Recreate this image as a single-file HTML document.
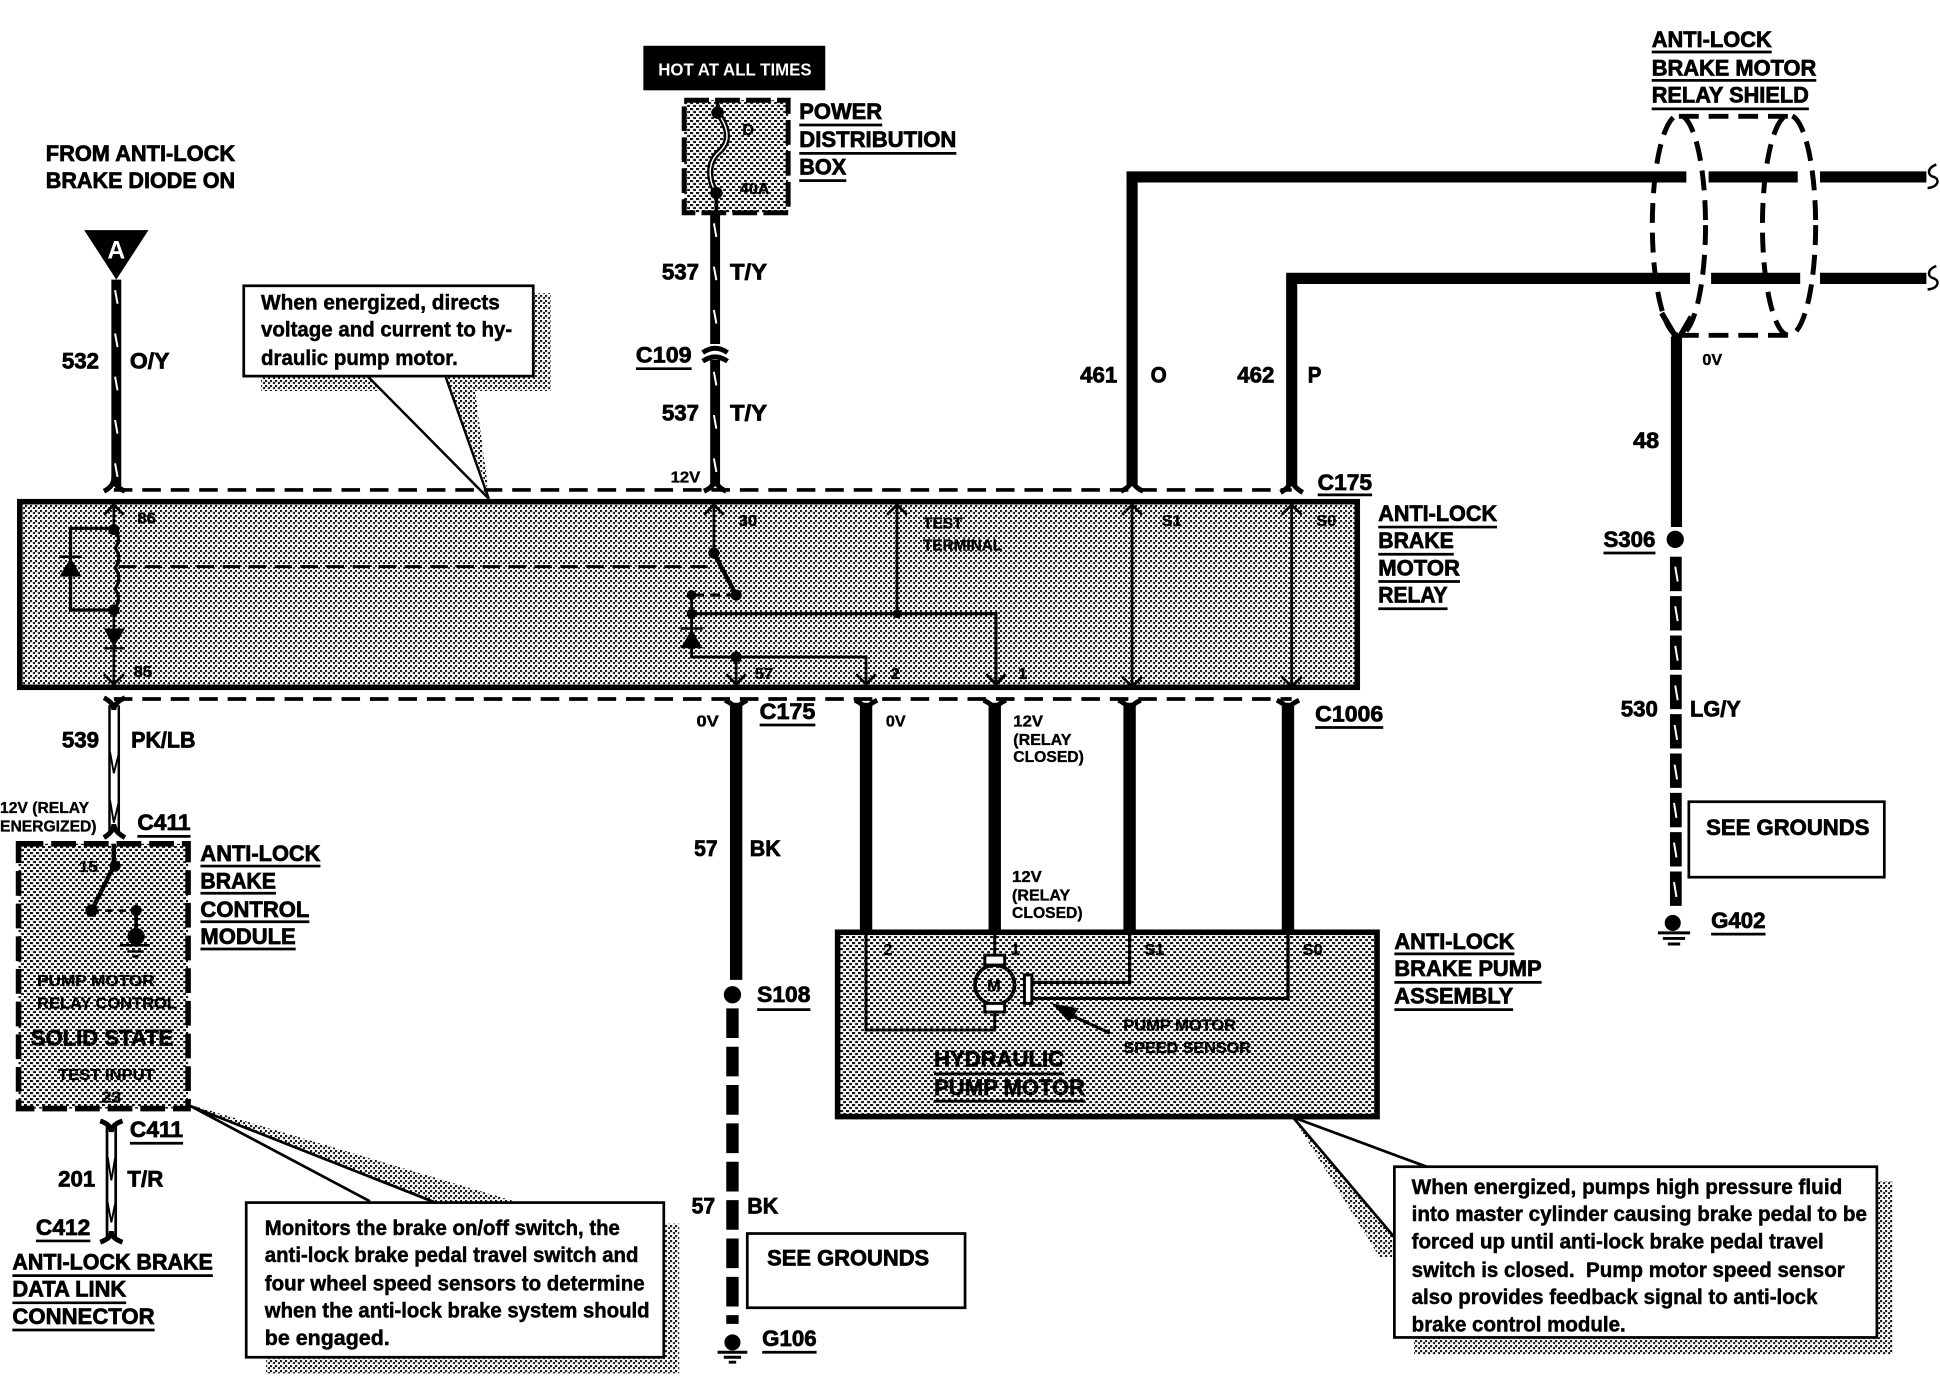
<!DOCTYPE html>
<html><head><meta charset="utf-8"><style>
html,body{margin:0;padding:0;background:#fff}
svg{display:block}
text{font-family:"Liberation Sans",sans-serif;fill:#000}
.b{font-weight:700;font-size:18px;stroke:#000;stroke-width:.6}
.m{font-weight:700;font-size:17px;stroke:#000;stroke-width:.4}
.s{font-weight:700;font-size:13px;stroke:#000;stroke-width:.3}
.w{fill:none;stroke:#000}
.u{stroke:#000;stroke-width:2.2;fill:none}
.t{fill:none;stroke:#fff;stroke-width:1.6}
</style></head><body>
<svg xmlns="http://www.w3.org/2000/svg" width="1940" height="1376" viewBox="0 0 1568 1112.16">
<defs>
<pattern id="f" width="5" height="5" patternUnits="userSpaceOnUse" patternTransform="scale(.8083)"><rect width="5" height="5" fill="#fff"/><rect width="2" height="2" fill="#000"/><rect x="3" y="2" width="2" height="2" fill="#000"/></pattern>
<pattern id="c" width="6" height="6" patternUnits="userSpaceOnUse" patternTransform="scale(.8083)"><rect width="6" height="6" fill="#fff"/><rect width="3" height="2" fill="#000"/><rect x="3" y="3" width="3" height="2" fill="#000"/></pattern>
</defs>

<!-- shaded boxes -->
<rect x="16" y="405.5" width="1081" height="150" fill="url(#f)" stroke="#000" stroke-width="4.5"/>
<rect x="677" y="753.5" width="436" height="149" fill="url(#c)" stroke="#000" stroke-width="4.5"/>
<rect x="15" y="682" width="137" height="214" fill="url(#c)" stroke="#000" stroke-width="4.5" stroke-dasharray="20 6.4"/>
<rect x="553" y="81" width="84" height="91" fill="url(#c)" stroke="#000" stroke-width="4" stroke-dasharray="20 5"/>

<!-- callout shadows + callouts -->
<path d="M431 237H445V316H211V304H431Z" fill="url(#f)"/>
<path d="M360 304L395 398L384 316L372 304Z" fill="url(#f)"/>
<path d="M297 304L395 403L360 304" fill="#fff" stroke="#000" stroke-width="2"/>
<rect x="197" y="231" width="234" height="73" fill="#fff" stroke="#000" stroke-width="2.2"/>
<path d="M537 989H549V1110H215V1097H537Z" fill="url(#f)"/>
<path d="M154 893L357 974L426 974Z" fill="url(#f)"/>
<path d="M154 894L299 971M154 894L357 974" class="w" stroke-width="2.2"/>
<rect x="199" y="972" width="337.5" height="125" fill="#fff" stroke="#000" stroke-width="2.2"/>
<path d="M1517 955H1530V1095H1143V1081H1517Z" fill="url(#f)"/>
<path d="M1045 903L1127 1000V1016H1115Z" fill="url(#f)"/>
<path d="M1045 903L1127 1000M1045 903L1153 943" class="w" stroke-width="2.2"/>
<rect x="1127" y="943" width="390" height="138" fill="#fff" stroke="#000" stroke-width="2.2"/>

<!-- dashed connector lines -->
<path d="M92 396H1044" class="w" stroke-width="3" stroke-dasharray="15 8"/>
<path d="M92 565H1044" class="w" stroke-width="3" stroke-dasharray="15 8"/>

<!-- heavy wires -->
<path d="M94 226V393" class="w" stroke-width="8"/>
<path d="M93 234.5L95 245.5M93 269.5L95 280.5M93 304.5L95 315.5M93 339.5L95 350.5M93 374.5L95 385.5" class="t"/>
<path d="M578 172V278M578 291V393" class="w" stroke-width="8"/>
<path d="M577 180.500L579 191.500M577 215.500L579 226.500M577 250.500L579 261.500M577 300.500L579 311.500M577 335.500L579 346.500M577 370.500L579 381.500" class="t"/>
<path d="M915 393V143H1363M1381 143H1453M1471 143H1557" class="w" stroke-width="9"/>
<path d="M1044 393V225H1366M1383 225H1455M1471 225H1557" class="w" stroke-width="9"/>
<path d="M1355 272V426" class="w" stroke-width="9"/>
<path d="M1354.500 450V736" class="w" stroke-width="9.500" stroke-dasharray="27.800 4"/>
<path d="M1354 458L1356 470M1354 490L1356 502M1354 522L1356 534M1354 554L1356 566M1353.500 586L1355.500 598M1353.500 618L1355.500 630M1353 649L1355 661M1353 681L1355 693M1353 713L1355 725" class="t"/>
<path d="M595 568V792" class="w" stroke-width="10"/>
<path d="M592 815V1070" class="w" stroke-width="10" stroke-dasharray="24 7"/>
<path d="M700 568V753M804 568V753M913 568V753M1041 568V753" class="w" stroke-width="10"/>
<path d="M88.500 570V672M96 570V672" class="w" stroke-width="2"/>
<path d="M89 608L92 625L96 609M89 647L92 665L96 648" class="w" stroke-width="1.500"/>
<path d="M86.500 908V1000M93.500 908V1000" class="w" stroke-width="2.200"/>
<path d="M87 935L90 954L93 936M87 972L90 988L93 973" class="w" stroke-width="1.500"/>

<!-- connector forks -->
<path d="M84 397Q92 393 92 386Q92 393 101 397M569 397Q578 393 578 386Q578 393 587 397M906 397Q915 393 915 386Q915 393 924 397M1035 398Q1044 393 1044 386Q1044 393 1053 398" class="w" stroke-width="4"/>
<path d="M84 564Q92 568 92 574Q92 568 101 564M586 566Q595 570 595 576Q595 570 604 566M691 566Q700 570 700 576Q700 570 709 566M795 566Q804 570 804 576Q804 570 813 566M904 566Q913 570 913 576Q913 570 922 566M1032 566Q1041 570 1041 576Q1041 570 1050 566" class="w" stroke-width="4"/>
<path d="M568 285Q578 278 588 285M568 292Q578 285 588 292" class="w" stroke-width="4"/>
<path d="M84 677Q92 672 92 666Q92 672 101 677" class="w" stroke-width="4"/>
<path d="M81 906Q90 909 90 915Q90 909 99 906" class="w" stroke-width="4"/>
<path d="M81 1004Q90 1001 90 995Q90 1001 99 1004" class="w" stroke-width="4"/>

<!-- A triangle -->
<path d="M68 186H120L94 226Z" fill="#000"/>
<text x="94" y="209" text-anchor="middle" font-size="20" font-weight="700" style="fill:#fff">A</text>

<!-- fuse -->
<path d="M580 80V90M579 156V172" class="w" stroke-width="3"/>
<path d="M580 91C590 105 590 115 581 123C572 131 572 145 579 156" class="w" stroke-width="5"/>
<path d="M580 91C590 105 590 115 581 123C572 131 572 145 579 156" fill="none" stroke="#fff" stroke-width="1.200"/>
<circle cx="580" cy="91" r="5"/><circle cx="579" cy="156" r="5"/>

<!-- shield -->
<ellipse cx="1357" cy="182" rx="21.500" ry="89" class="w" stroke-width="4" stroke-dasharray="16 8"/>
<ellipse cx="1446" cy="182" rx="21.500" ry="89" class="w" stroke-width="4" stroke-dasharray="16 8"/>
<path d="M1357 94H1446M1357 271H1446" class="w" stroke-width="4" stroke-dasharray="16 8"/>
<path d="M1343 253L1356 275L1367 256" class="w" stroke-width="4.500"/>
<path d="M1565 133C1557 136 1558 142 1563 143C1568 145 1567 151 1558 152M1565 215C1557 218 1558 224 1563 225C1568 227 1567 233 1558 234" class="w" stroke-width="2"/>

<!-- grounds and splice dots -->
<circle cx="1354" cy="436" r="7"/><circle cx="592" cy="804" r="7"/>
<circle cx="1352" cy="746" r="6.500"/><path d="M1340 754H1366M1344 758.500H1362M1348 763H1358" class="w" stroke-width="2.400"/>
<circle cx="592" cy="1085" r="6.500"/><path d="M580 1093H604M585 1097H599M589 1101H595" class="w" stroke-width="2.400"/>

<!-- relay internals -->
<g class="w" fill="none" stroke="#000" stroke-width="2.200">
<path d="M92 408V427M92 493V553M84 416L92 408L100 416M84 545L92 553L100 545"/>
<path d="M92 427Q99 435 93 443Q99 451 93 459Q99 467 93 476Q99 484 92 493" stroke-width="2.600"/>
<path d="M92 427H57V493H92" stroke-width="2.600"/>
<path d="M96 458H575" stroke-dasharray="14 7" stroke-width="2.400"/>
<path d="M577 408V447M569 416L577 408L585 416"/>
<path d="M577 447L595 481" stroke-width="3.500"/>
<path d="M595 481H559" stroke-width="2.500" stroke-dasharray="8 5"/>
<path d="M559 481V531H700V553M692 545L700 553L708 545"/>
<path d="M559 496H805V553M797 545L805 553L813 545" stroke-width="2.500"/>
<path d="M595 531V553M587 545L595 553L603 545"/>
<path d="M725 408V496M717 416L725 408L733 416"/>
<path d="M915 408V555M907 416L915 408L923 416M907 547L915 555L923 547"/>
<path d="M1044 408V555M1036 416L1044 408L1052 416M1036 547L1044 555L1052 547"/>
</g>
<path d="M48 466H66L57 451Z"/><path d="M48 450H66" class="w" stroke-width="2"/>
<path d="M84 508H101L92 523Z"/><path d="M84 524H101" class="w" stroke-width="2"/>
<path d="M550 524H568L559 509Z"/><path d="M550 508H568" class="w" stroke-width="2"/>
<circle cx="92" cy="428" r="4.500"/><circle cx="92" cy="493" r="4.500"/>
<circle cx="577" cy="447" r="4.500"/><circle cx="595" cy="481" r="4.500"/><circle cx="559" cy="481" r="4"/><circle cx="559" cy="496" r="4"/><circle cx="595" cy="531" r="4.500"/><circle cx="725" cy="496" r="3.500"/>

<!-- control module internals -->
<path d="M92 682V700L74 736" class="w" stroke-width="3.500"/>
<path d="M74 736H110" class="w" stroke-width="2" stroke-dasharray="6 5"/>
<path d="M110 736V757" class="w" stroke-width="3"/>
<circle cx="93" cy="700" r="4.500"/><circle cx="74" cy="736" r="5"/><circle cx="110" cy="736" r="4.500"/><circle cx="110" cy="757" r="7"/>
<path d="M97 764H121M103 769H116M107 773H112" class="w" stroke-width="2"/>

<!-- pump internals -->
<path d="M700 753V832.500H804V815M804 753V772" class="w" stroke-width="2.400"/>
<circle cx="804" cy="796" r="16" fill="none" stroke="#000" stroke-width="3"/>
<rect x="796" y="772" width="16" height="8" fill="#fff" stroke="#000" stroke-width="2.400"/>
<rect x="796" y="811" width="16" height="7" fill="#fff" stroke="#000" stroke-width="2.400"/>
<rect x="828" y="788" width="6" height="23" fill="#fff" stroke="#000" stroke-width="2.400"/>
<path d="M834 794H913V753M834 807H1041V753" class="w" stroke-width="2.600"/>
<path d="M897 835L860 818" class="w" stroke-width="2.500"/>
<path d="M850 811L872 815L864 826Z"/>

<!-- HOT box -->
<rect x="520" y="37" width="147" height="36" fill="#000"/>
<text x="532" y="61" font-size="14" font-weight="700" textLength="124" lengthAdjust="spacingAndGlyphs" style="fill:#fff">HOT AT ALL TIMES</text>

<!-- see grounds -->
<rect x="1365" y="648" width="158" height="61" fill="#fff" stroke="#000" stroke-width="2.200"/>
<rect x="604" y="997" width="176" height="60" fill="#fff" stroke="#000" stroke-width="2.200"/>

<!-- large bold labels -->
<g>
<text class="b" x="37" y="130" textLength="153" lengthAdjust="spacingAndGlyphs">FROM ANTI-LOCK</text>
<text class="b" x="37" y="152" textLength="153" lengthAdjust="spacingAndGlyphs">BRAKE DIODE ON</text>
<text class="b" x="50" y="298" textLength="30" lengthAdjust="spacingAndGlyphs">532</text>
<text class="b" x="105" y="298" textLength="32" lengthAdjust="spacingAndGlyphs">O/Y</text>
<text class="b" x="646" y="96" textLength="67" lengthAdjust="spacingAndGlyphs">POWER</text>
<text class="b" x="646" y="119" textLength="127" lengthAdjust="spacingAndGlyphs">DISTRIBUTION</text>
<text class="b" x="646" y="141" textLength="38" lengthAdjust="spacingAndGlyphs">BOX</text>
<text class="b" x="535" y="226" textLength="30" lengthAdjust="spacingAndGlyphs">537</text>
<text class="b" x="590" y="226" textLength="30" lengthAdjust="spacingAndGlyphs">T/Y</text>
<text class="b" x="514" y="293" textLength="45" lengthAdjust="spacingAndGlyphs">C109</text>
<text class="b" x="535" y="340" textLength="30" lengthAdjust="spacingAndGlyphs">537</text>
<text class="b" x="590" y="340" textLength="30" lengthAdjust="spacingAndGlyphs">T/Y</text>
<text class="b" x="873" y="309" textLength="30" lengthAdjust="spacingAndGlyphs">461</text>
<text class="b" x="930" y="309" textLength="13" lengthAdjust="spacingAndGlyphs">O</text>
<text class="b" x="1000" y="309" textLength="30" lengthAdjust="spacingAndGlyphs">462</text>
<text class="b" x="1057" y="309" textLength="11" lengthAdjust="spacingAndGlyphs">P</text>
<text class="b" x="1335" y="38" textLength="97" lengthAdjust="spacingAndGlyphs">ANTI-LOCK</text>
<text class="b" x="1335" y="61" textLength="133" lengthAdjust="spacingAndGlyphs">BRAKE MOTOR</text>
<text class="b" x="1335" y="83" textLength="127" lengthAdjust="spacingAndGlyphs">RELAY SHIELD</text>
<text class="b" x="1320" y="362" textLength="21" lengthAdjust="spacingAndGlyphs">48</text>
<text class="b" x="1296" y="442" textLength="42" lengthAdjust="spacingAndGlyphs">S306</text>
<text class="b" x="1310" y="579" textLength="30" lengthAdjust="spacingAndGlyphs">530</text>
<text class="b" x="1366" y="579" textLength="41" lengthAdjust="spacingAndGlyphs">LG/Y</text>
<text class="b" x="1379" y="675" textLength="132" lengthAdjust="spacingAndGlyphs">SEE GROUNDS</text>
<text class="b" x="1383" y="750" textLength="44" lengthAdjust="spacingAndGlyphs">G402</text>
<text class="b" x="1065" y="396" textLength="44" lengthAdjust="spacingAndGlyphs">C175</text>
<text class="b" x="1114" y="421" textLength="96" lengthAdjust="spacingAndGlyphs">ANTI-LOCK</text>
<text class="b" x="1114" y="443" textLength="61" lengthAdjust="spacingAndGlyphs">BRAKE</text>
<text class="b" x="1114" y="465" textLength="66" lengthAdjust="spacingAndGlyphs">MOTOR</text>
<text class="b" x="1114" y="487" textLength="56" lengthAdjust="spacingAndGlyphs">RELAY</text>
<text class="b" x="50" y="604" textLength="30" lengthAdjust="spacingAndGlyphs">539</text>
<text class="b" x="106" y="604" textLength="52" lengthAdjust="spacingAndGlyphs">PK/LB</text>
<text class="b" x="111" y="671" textLength="43" lengthAdjust="spacingAndGlyphs">C411</text>
<text class="b" x="162" y="696" textLength="97" lengthAdjust="spacingAndGlyphs">ANTI-LOCK</text>
<text class="b" x="162" y="718" textLength="61" lengthAdjust="spacingAndGlyphs">BRAKE</text>
<text class="b" x="162" y="741" textLength="88" lengthAdjust="spacingAndGlyphs">CONTROL</text>
<text class="b" x="162" y="763" textLength="77" lengthAdjust="spacingAndGlyphs">MODULE</text>
<text class="b" x="105" y="919" textLength="43" lengthAdjust="spacingAndGlyphs">C411</text>
<text class="b" x="47" y="959" textLength="30" lengthAdjust="spacingAndGlyphs">201</text>
<text class="b" x="103" y="959" textLength="29" lengthAdjust="spacingAndGlyphs">T/R</text>
<text class="b" x="29" y="998" textLength="44" lengthAdjust="spacingAndGlyphs">C412</text>
<text class="b" x="10" y="1026" textLength="162" lengthAdjust="spacingAndGlyphs">ANTI-LOCK BRAKE</text>
<text class="b" x="10" y="1048" textLength="92" lengthAdjust="spacingAndGlyphs">DATA LINK</text>
<text class="b" x="10" y="1070" textLength="115" lengthAdjust="spacingAndGlyphs">CONNECTOR</text>
<text class="b" x="614" y="581" textLength="45" lengthAdjust="spacingAndGlyphs">C175</text>
<text class="b" x="561" y="692" textLength="19" lengthAdjust="spacingAndGlyphs">57</text>
<text class="b" x="606" y="692" textLength="25" lengthAdjust="spacingAndGlyphs">BK</text>
<text class="b" x="612" y="810" textLength="43" lengthAdjust="spacingAndGlyphs">S108</text>
<text class="b" x="559" y="981" textLength="19" lengthAdjust="spacingAndGlyphs">57</text>
<text class="b" x="604" y="981" textLength="25" lengthAdjust="spacingAndGlyphs">BK</text>
<text class="b" x="620" y="1023" textLength="131" lengthAdjust="spacingAndGlyphs">SEE GROUNDS</text>
<text class="b" x="616" y="1088" textLength="44" lengthAdjust="spacingAndGlyphs">G106</text>
<text class="b" x="1063" y="583" textLength="55" lengthAdjust="spacingAndGlyphs">C1006</text>
<text class="b" x="1127" y="767" textLength="97" lengthAdjust="spacingAndGlyphs">ANTI-LOCK</text>
<text class="b" x="1127" y="789" textLength="119" lengthAdjust="spacingAndGlyphs">BRAKE PUMP</text>
<text class="b" x="1127" y="811" textLength="96" lengthAdjust="spacingAndGlyphs">ASSEMBLY</text>
<text class="b" x="755" y="862" textLength="105" lengthAdjust="spacingAndGlyphs">HYDRAULIC</text>
<text class="b" x="755" y="885" textLength="122" lengthAdjust="spacingAndGlyphs">PUMP MOTOR</text>
<text class="b" x="25" y="845" textLength="115" lengthAdjust="spacingAndGlyphs">SOLID STATE</text>
</g>

<!-- callout text -->
<g>
<text class="m" x="211" y="250" textLength="193" lengthAdjust="spacingAndGlyphs">When energized, directs</text>
<text class="m" x="211" y="272" textLength="203" lengthAdjust="spacingAndGlyphs">voltage and current to hy-</text>
<text class="m" x="211" y="295" textLength="159" lengthAdjust="spacingAndGlyphs">draulic pump motor.</text>
<text class="m" x="214" y="998" textLength="287" lengthAdjust="spacingAndGlyphs">Monitors the brake on/off switch, the</text>
<text class="m" x="214" y="1020" textLength="302" lengthAdjust="spacingAndGlyphs">anti-lock brake pedal travel switch and</text>
<text class="m" x="214" y="1043" textLength="307" lengthAdjust="spacingAndGlyphs">four wheel speed sensors to determine</text>
<text class="m" x="214" y="1065" textLength="311" lengthAdjust="spacingAndGlyphs">when the anti-lock brake system should</text>
<text class="m" x="214" y="1087" textLength="101" lengthAdjust="spacingAndGlyphs">be engaged.</text>
<text class="m" x="1141" y="965" textLength="348" lengthAdjust="spacingAndGlyphs">When energized, pumps high pressure fluid</text>
<text class="m" x="1141" y="987" textLength="368" lengthAdjust="spacingAndGlyphs">into master cylinder causing brake pedal to be</text>
<text class="m" x="1141" y="1009" textLength="333" lengthAdjust="spacingAndGlyphs">forced up until anti-lock brake pedal travel</text>
<text class="m" x="1141" y="1032" textLength="350" lengthAdjust="spacingAndGlyphs" xml:space="preserve">switch is closed.  Pump motor speed sensor</text>
<text class="m" x="1141" y="1054" textLength="328" lengthAdjust="spacingAndGlyphs">also provides feedback signal to anti-lock</text>
<text class="m" x="1141" y="1076" textLength="173" lengthAdjust="spacingAndGlyphs">brake control module.</text>
</g>

<!-- small labels -->
<g>
<text class="s" x="600" y="109">D</text>
<text class="s" x="598" y="157" textLength="24" lengthAdjust="spacingAndGlyphs">40A</text>
<text class="s" x="542" y="390" textLength="24" lengthAdjust="spacingAndGlyphs">12V</text>
<text class="s" x="1376" y="295" textLength="16" lengthAdjust="spacingAndGlyphs">0V</text>
<text class="s" x="111" y="423" textLength="15" lengthAdjust="spacingAndGlyphs">86</text>
<text class="s" x="108" y="547" textLength="15" lengthAdjust="spacingAndGlyphs">85</text>
<text class="s" x="597" y="425" textLength="15" lengthAdjust="spacingAndGlyphs">30</text>
<text class="s" x="939" y="425" textLength="16" lengthAdjust="spacingAndGlyphs">S1</text>
<text class="s" x="1064" y="425" textLength="16" lengthAdjust="spacingAndGlyphs">S0</text>
<text class="s" x="610" y="549" textLength="15" lengthAdjust="spacingAndGlyphs">57</text>
<text class="s" x="720" y="549">2</text>
<text class="s" x="823" y="549">1</text>
<text class="s" x="746" y="427" textLength="32" lengthAdjust="spacingAndGlyphs">TEST</text>
<text class="s" x="746" y="445" textLength="64" lengthAdjust="spacingAndGlyphs">TERMINAL</text>
<text class="s" x="0" y="657" textLength="72" lengthAdjust="spacingAndGlyphs">12V (RELAY</text>
<text class="s" x="0" y="672" textLength="78" lengthAdjust="spacingAndGlyphs">ENERGIZED)</text>
<text class="s" x="64" y="705" textLength="15" lengthAdjust="spacingAndGlyphs">15</text>
<text class="s" x="30" y="797" textLength="95" lengthAdjust="spacingAndGlyphs">PUMP MOTOR</text>
<text class="s" x="30" y="815" textLength="113" lengthAdjust="spacingAndGlyphs">RELAY CONTROL</text>
<text class="s" x="47" y="873" textLength="78" lengthAdjust="spacingAndGlyphs">TEST INPUT</text>
<text class="s" x="82" y="891" textLength="16" lengthAdjust="spacingAndGlyphs">23</text>
<text class="s" x="563" y="587" textLength="18" lengthAdjust="spacingAndGlyphs">0V</text>
<text class="s" x="716" y="587" textLength="16" lengthAdjust="spacingAndGlyphs">0V</text>
<text class="s" x="819" y="587" textLength="24" lengthAdjust="spacingAndGlyphs">12V</text>
<text class="s" x="819" y="602" textLength="47" lengthAdjust="spacingAndGlyphs">(RELAY</text>
<text class="s" x="819" y="616" textLength="57" lengthAdjust="spacingAndGlyphs">CLOSED)</text>
<text class="s" x="818" y="713" textLength="24" lengthAdjust="spacingAndGlyphs">12V</text>
<text class="s" x="818" y="728" textLength="47" lengthAdjust="spacingAndGlyphs">(RELAY</text>
<text class="s" x="818" y="742" textLength="57" lengthAdjust="spacingAndGlyphs">CLOSED)</text>
<text class="s" x="714" y="772">2</text>
<text class="s" x="817" y="772">1</text>
<text class="s" x="925" y="772" textLength="16" lengthAdjust="spacingAndGlyphs">S1</text>
<text class="s" x="1053" y="772" textLength="16" lengthAdjust="spacingAndGlyphs">S0</text>
<text class="s" x="798" y="801">M</text>
<text class="s" x="908" y="833" textLength="91" lengthAdjust="spacingAndGlyphs">PUMP MOTOR</text>
<text class="s" x="908" y="851" textLength="103" lengthAdjust="spacingAndGlyphs">SPEED SENSOR</text>
</g>

<!-- underlines -->
<path class="u" d="M646 101H713M646 124H773M646 146H684M514 298H559M1335 42H1432M1335 65H1468M1335 88H1462M1296 447H1338M1383 755H1427M1065 400H1109M1114 426H1210M1114 448H1175M1114 470H1180M1114 492H1170M111 676H154M162 700H259M162 722H223M162 745H250M162 767H239M105 924H148M29 1003H73M10 1031H172M10 1053H102M10 1075H125M614 586H659M612 816H655M616 1093H660M1063 588H1118M1127 771H1224M1127 794H1246M1127 816H1223M755 868H860M755 890H877"/>
</svg>
</body></html>
